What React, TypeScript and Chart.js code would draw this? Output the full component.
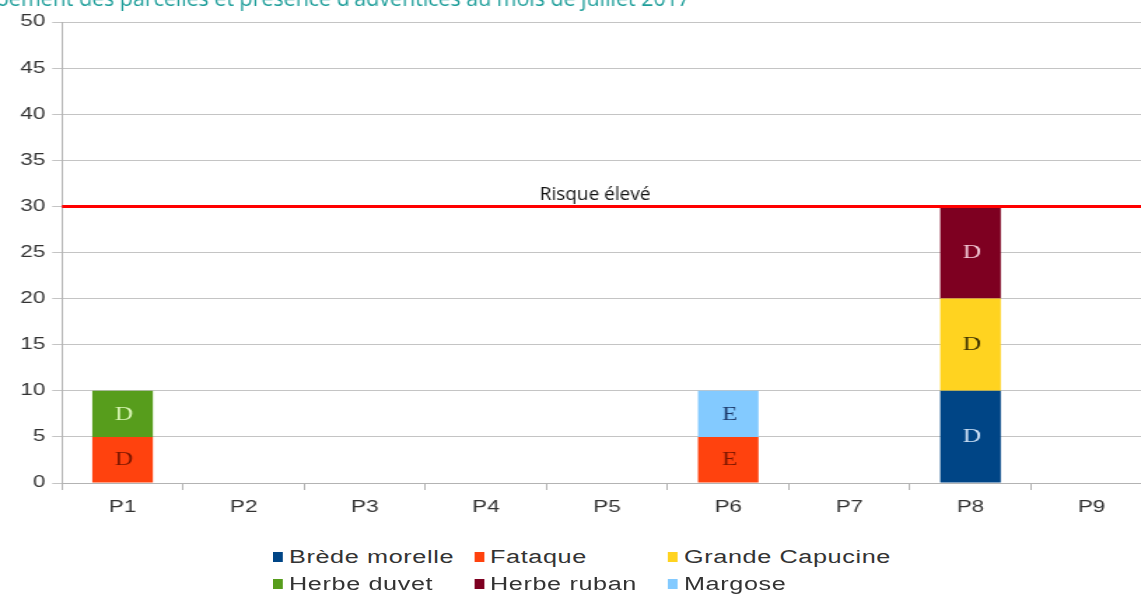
import React, { useEffect, useRef } from "react";
import { Chart, registerables } from "chart.js";

Chart.register(...registerables);

const STRETCH = 1.4;

const categories = ["P1", "P2", "P3", "P4", "P5", "P6", "P7", "P8", "P9"];

const seriesNames = ["Brède morelle", "Fataque", "Grande Capucine", "Herbe duvet", "Herbe ruban", "Margose"];
const seriesColors = ["#004586", "#ff420e", "#ffd320", "#579d1c", "#7e0021", "#83caff"];
const labelColors = ["#cfe2f7", "#7a1600", "#3a3000", "#d9f5b5", "#f3c8d6", "#1d3a6b"];

const bredeMorelle = [0, 0, 0, 0, 0, 0, 0, 10, 0];
const fataque = [5, 0, 0, 0, 0, 5, 0, 0, 0];
const grandeCapucine = [0, 0, 0, 0, 0, 0, 0, 10, 0];
const herbeDuvet = [5, 0, 0, 0, 0, 0, 0, 0, 0];
const herbeRuban = [0, 0, 0, 0, 0, 0, 0, 10, 0];
const margose = [0, 0, 0, 0, 0, 5, 0, 0, 0];

const bredeMorelleLabels = ["", "", "", "", "", "", "", "D", ""];
const fataqueLabels = ["D", "", "", "", "", "E", "", "", ""];
const grandeCapucineLabels = ["", "", "", "", "", "", "", "D", ""];
const herbeDuvetLabels = ["D", "", "", "", "", "", "", "", ""];
const herbeRubanLabels = ["", "", "", "", "", "", "", "D", ""];
const margoseLabels = ["", "", "", "", "", "E", "", "", ""];

const riskValue = 30;
const riskLabel = "Risque élevé";
const titleText = "Enherbement des parcelles et présence d'adventices au mois de juillet 2017";
const yTicks = { min: 0, max: 50, step: 5 };

const seriesValues = [bredeMorelle, fataque, grandeCapucine, herbeDuvet, herbeRuban, margose];
const seriesLabels = [bredeMorelleLabels, fataqueLabels, grandeCapucineLabels, herbeDuvetLabels, herbeRubanLabels, margoseLabels];

const barLabelPlugin = {
  id: "barLabels",
  afterDatasetsDraw(chart: any) {
    const ctx = chart.ctx;
    ctx.save();
    ctx.font = '18px "Liberation Serif"';
    ctx.textAlign = "center";
    ctx.textBaseline = "middle";
    chart.data.datasets.forEach((ds: any, di: number) => {
      const meta = chart.getDatasetMeta(di);
      meta.data.forEach((bar: any, i: number) => {
        const txt = seriesLabels[di][i];
        if (!txt) return;
        ctx.fillStyle = labelColors[di];
        ctx.fillText(txt, bar.x + 1, (bar.y + bar.base) / 2 + 1);
      });
    });
    ctx.restore();
  },
};

const riskPlugin = {
  id: "riskLine",
  afterDatasetsDraw(chart: any) {
    const { ctx, chartArea, scales } = chart;
    const y = scales.y.getPixelForValue(riskValue);
    ctx.save();
    ctx.strokeStyle = "#ff0000";
    ctx.lineWidth = 3;
    ctx.beginPath();
    ctx.moveTo(chartArea.left, y);
    ctx.lineTo(chartArea.right + 2, y);
    ctx.stroke();
    const cx = chartArea.left + (chartArea.right - chartArea.left) * 0.489;
    ctx.translate(cx, y - 6);
    ctx.scale(1 / STRETCH, 1);
    ctx.fillStyle = "#111111";
    ctx.font = '19px "Open Sans"';
    ctx.textAlign = "center";
    ctx.textBaseline = "alphabetic";
    ctx.fillText(riskLabel, 0, 0);
    ctx.restore();
  },
};

const titlePlugin = {
  id: "clippedTitle",
  afterDraw(chart: any) {
    const ctx = chart.ctx;
    ctx.save();
    ctx.translate(690 / STRETCH, 6);
    ctx.scale(1 / STRETCH, 1);
    ctx.fillStyle = "#1e9e9a";
    ctx.font = '21.4px "Open Sans"';
    ctx.textAlign = "right";
    ctx.textBaseline = "alphabetic";
    ctx.fillText(titleText, 0, 0);
    ctx.restore();
  },
};

export default function App() {
  const ref = useRef<HTMLCanvasElement | null>(null);

  useEffect(() => {
    if (!ref.current) return;
    const chart = new Chart(ref.current, {
      type: "bar",
      data: {
        labels: categories,
        datasets: seriesNames.map((name, i) => ({
          label: name,
          data: seriesValues[i],
          backgroundColor: seriesColors[i],
          borderWidth: 0,
          barPercentage: 0.5,
          categoryPercentage: 1,
        })),
      },
      options: {
        responsive: false,
        animation: false,
        devicePixelRatio: 1,
        layout: { padding: { top: 22, left: 0, right: 0, bottom: 0 } },
        plugins: {
          legend: { display: false },
          tooltip: { enabled: false },
          title: { display: false },
        },
        scales: {
          x: {
            stacked: true,
            grid: { display: true, drawOnChartArea: false, tickLength: 7, color: "#b3b3b3", offset: true },
            border: { display: true, color: "#b3b3b3" },
            ticks: { color: "#333333", font: { family: "Liberation Sans", size: 16 }, padding: 8 },
            afterFit: (s: any) => {
              s.height = 57;
            },
          },
          y: {
            stacked: true,
            min: yTicks.min,
            max: yTicks.max,
            ticks: { stepSize: yTicks.step, color: "#333333", font: { family: "Liberation Sans", size: 16 }, padding: 5 },
            grid: { color: "#c4c4c4", tickLength: 7 },
            border: { display: true, color: "#b3b3b3" },
            afterFit: (s: any) => {
              s.width = 62 / STRETCH;
            },
          },
        },
      },
      plugins: [barLabelPlugin, riskPlugin, titlePlugin],
    });
    return () => chart.destroy();
  }, []);

  const colX = [273, 474, 668];
  const rowY = [557, 584];

  return (
    <div
      style={{
        position: "fixed",
        left: 0,
        top: 0,
        width: 1152 / STRETCH,
        height: 594,
        transform: `scaleX(${STRETCH})`,
        transformOrigin: "0 0",
        background: "#ffffff",
      }}
    >
      <canvas ref={ref} width={Math.round(1152 / STRETCH)} height={540} style={{ display: "block" }} />
      {seriesNames.map((name, i) => {
        const col = i % 3;
        const row = Math.floor(i / 3);
        return (
          <div
            key={name}
            style={{
              position: "absolute",
              left: colX[col] / STRETCH,
              top: rowY[row] - 11,
              height: 22,
              display: "flex",
              alignItems: "center",
              whiteSpace: "nowrap",
              fontFamily: "Liberation Sans",
              fontSize: 18,
              letterSpacing: 0.45,
              color: "#333333",
            }}
          >
            <span
              style={{
                display: "inline-block",
                width: 10 / STRETCH,
                height: 10,
                background: seriesColors[i],
                marginRight: 6 / STRETCH,
              }}
            />
            <span>{name}</span>
          </div>
        );
      })}
    </div>
  );
}
